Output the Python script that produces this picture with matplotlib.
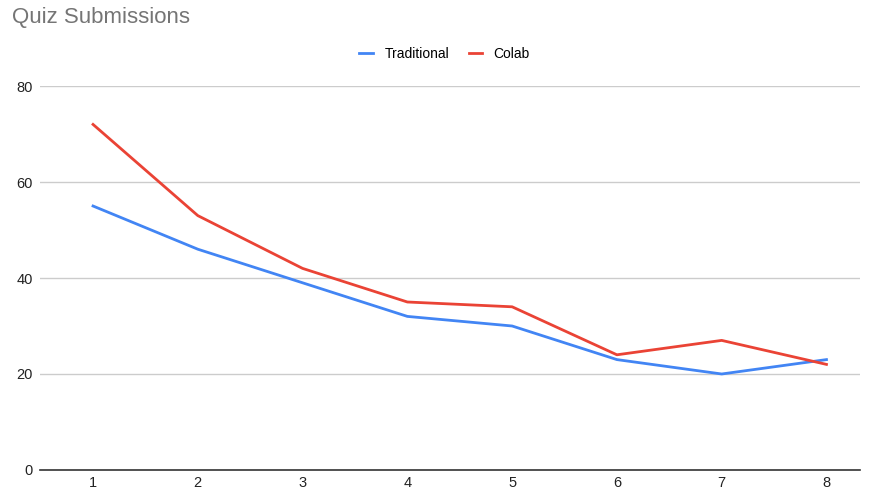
import matplotlib
matplotlib.use("Agg")
import matplotlib.pyplot as plt

quiz = [1, 2, 3, 4, 5, 6, 7, 8]
traditional = [55, 46, 39, 32, 30, 23, 20, 23]
colab = [72, 53, 42, 35, 34, 24, 27, 22]
y_ticks = [0, 20, 40, 60, 80]

plt.rcParams["font.family"] = ["Liberation Sans", "DejaVu Sans"]

fig = plt.figure(figsize=(8.7, 4.91), dpi=100)
ax = fig.add_axes([0.046, 0.0428, 0.9425, 0.782])

ax.plot(quiz, traditional, color="#4285f4", linewidth=2, label="Traditional")
ax.plot(quiz, colab, color="#ea4335", linewidth=2, label="Colab")

ax.set_xlim(0.494, 8.32)
ax.set_ylim(0, 80)
ax.set_yticks(y_ticks)
ax.set_xticks(quiz)
ax.grid(axis="y", color="#cccccc", linewidth=1)
ax.set_axisbelow(True)
for side in ["top", "right", "left"]:
    ax.spines[side].set_visible(False)
ax.spines["bottom"].set_color("#333333")
ax.spines["bottom"].set_linewidth(1.2)
ax.tick_params(axis="both", length=0, labelsize=10.5, colors="#222222")
ax.tick_params(axis="y", pad=5)
ax.tick_params(axis="x", pad=4)

fig.text(0.014, 0.965, "Quiz Submissions", fontsize=16, color="#757575", va="center", ha="left")
fig.legend(loc="center", bbox_to_anchor=(0.511, 0.89), ncol=2, frameon=False,
           fontsize=10, handlelength=1.0, handletextpad=0.8, columnspacing=1.4)

fig.savefig("out.png", dpi=100)
